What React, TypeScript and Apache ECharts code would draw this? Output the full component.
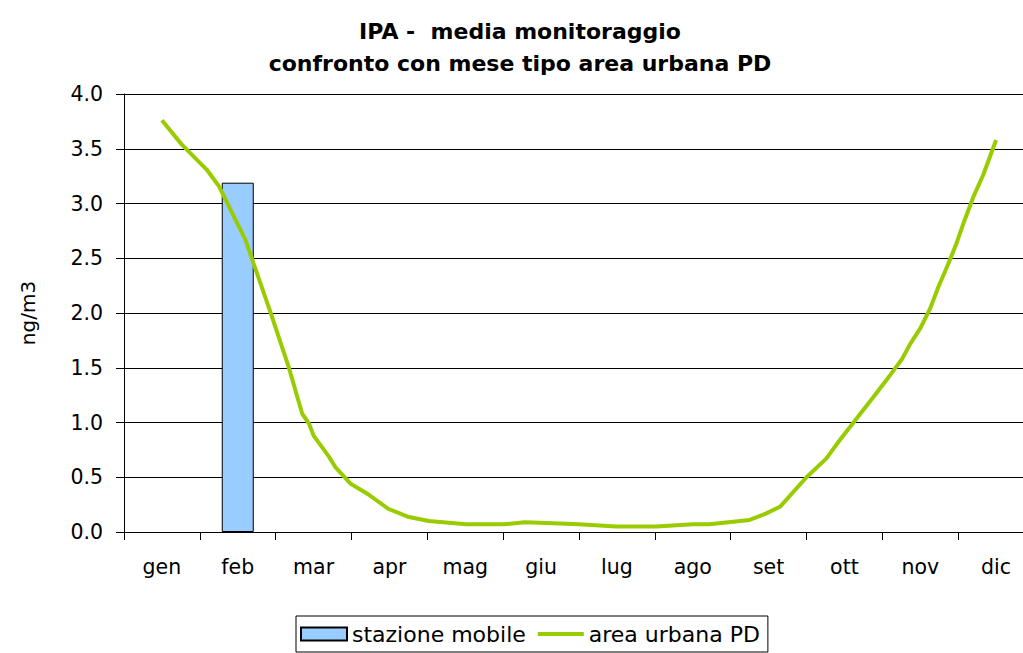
import React, { useEffect, useRef } from "react";
import * as echarts from "echarts";

const months = ["gen", "feb", "mar", "apr", "mag", "giu", "lug", "ago", "set", "ott", "nov", "dic"];
const stazioneMobile = [null, 3.19, null, null, null, null, null, null, null, null, null, null];
// area urbana PD: position in month units (0 = gen, 11 = dic) and value
const urbanX = [0, 0.26, 0.59, 0.75, 1.1, 1.19, 1.36, 1.43, 1.67, 1.85, 1.94, 2.0, 2.2, 2.29, 2.49, 2.73, 2.99, 3.24, 3.52, 4.01, 4.51, 4.78, 4.98, 5.5, 5.99, 6.52, 7.0, 7.22, 7.75, 7.97, 8.15, 8.5, 8.76, 8.94, 9.21, 9.38, 9.6, 9.76, 9.87, 10.0, 10.13, 10.24, 10.37, 10.48, 10.57, 10.7, 10.83, 11.0];
const urbanY = [3.76, 3.54, 3.31, 3.16, 2.67, 2.49, 2.15, 2.01, 1.51, 1.08, 0.99, 0.88, 0.69, 0.59, 0.44, 0.34, 0.21, 0.14, 0.1, 0.07, 0.07, 0.09, 0.085, 0.07, 0.05, 0.05, 0.07, 0.07, 0.11, 0.17, 0.23, 0.5, 0.67, 0.84, 1.08, 1.23, 1.43, 1.58, 1.72, 1.86, 2.04, 2.24, 2.45, 2.64, 2.82, 3.06, 3.26, 3.58];
const yTicks = { min: 0, max: 4, interval: 0.5 };

const FONT = "DejaVu Sans";

export default function App() {
  const ref = useRef<HTMLDivElement>(null);
  useEffect(() => {
    if (!ref.current) return;
    const chart = echarts.init(ref.current, null, { renderer: "svg" });
    const urban = urbanX.map((x, i) => [x, urbanY[i]]);
    chart.setOption({
      animation: false,
      backgroundColor: "#fff",
      textStyle: { fontFamily: FONT, color: "#000" },
      title: {
        text: "IPA -  media monitoraggio\nconfronto con mese tipo area urbana PD",
        left: 515,
        top: 10,
        textAlign: "center",
        textStyle: { fontFamily: FONT, fontWeight: "bold", fontSize: 22, lineHeight: 32, color: "#000" },
      },
      legend: {
        left: 296,
        top: 616,
        padding: [7, 8, 7, 4],
        borderColor: "#000",
        borderWidth: 1,
        itemWidth: 46,
        itemHeight: 13,
        itemGap: 12,
        textStyle: { fontFamily: FONT, fontSize: 22, color: "#000" },
        data: [
          { name: "stazione mobile", icon: "rect" },
          { name: "area urbana PD", icon: "path://M0,0h46v4h-46z" },
        ],
      },
      grid: { left: 124, right: 1, top: 94, bottom: 121, containLabel: false },
      xAxis: [
        {
          type: "category",
          data: months,
          boundaryGap: true,
          axisLine: { lineStyle: { color: "#000", width: 1 } },
          axisTick: { show: true, length: 8, lineStyle: { color: "#000" } },
          axisLabel: { fontFamily: FONT, fontSize: 20.5, color: "#000", margin: 24 },
          splitLine: { show: false },
        },
        {
          type: "value",
          min: -0.5,
          max: 11.5,
          show: false,
          splitLine: { show: false },
        },
      ],
      yAxis: {
        type: "value",
        min: yTicks.min,
        max: yTicks.max,
        interval: yTicks.interval,
        name: "ng/m3",
        nameLocation: "middle",
        nameGap: 86,
        nameRotate: 90,
        nameTextStyle: { fontFamily: FONT, fontSize: 20, color: "#000" },
        axisLine: { show: true, onZero: false, lineStyle: { color: "#000", width: 1 } },
        axisTick: { show: true, length: 8, lineStyle: { color: "#000" } },
        axisLabel: {
          fontFamily: FONT,
          fontSize: 20.5,
          color: "#000",
          margin: 21,
          formatter: (v: number) => v.toFixed(1),
        },
        splitLine: { show: true, lineStyle: { color: "#000", width: 1 } },
      },
      series: [
        {
          name: "stazione mobile",
          type: "bar",
          data: stazioneMobile,
          barWidth: 32,
          itemStyle: { color: "#99CCFF", borderColor: "#000", borderWidth: 1 },
          z: 2,
        },
        {
          name: "area urbana PD",
          type: "line",
          xAxisIndex: 1,
          data: urban,
          symbol: "none",
          showSymbol: false,
          smooth: false,
          lineStyle: { color: "#99CC00", width: 4 },
          itemStyle: { color: "#99CC00" },
          z: 3,
        },
      ],
    });
    return () => chart.dispose();
  }, []);
  return (
    <div style={{ position: "absolute", left: 0, top: 0, width: 1023, height: 653, overflow: "hidden", background: "#fff" }}>
      <div ref={ref} style={{ position: "absolute", left: 0, top: 0, width: 1035, height: 653 }} />
    </div>
  );
}
